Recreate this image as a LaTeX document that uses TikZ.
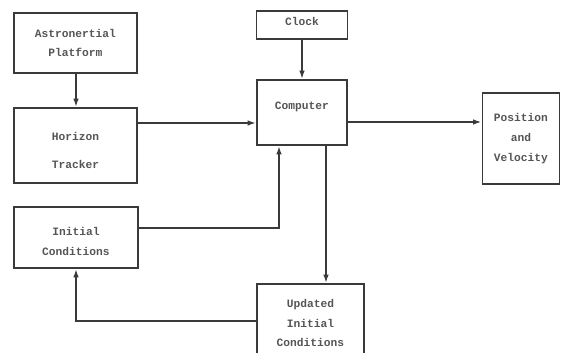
\documentclass[tikz,border=0pt]{standalone}
\usepackage{fontspec}
\setmonofont{Liberation Mono}
\usetikzlibrary{arrows.meta}
\definecolor{inkline}{HTML}{3A3A3A}
\definecolor{inktext}{HTML}{555555}
\newcommand{\lowtext}[2]{\raisebox{#1}[0pt][0pt]{\begin{tabular}{@{}c@{}}#2\end{tabular}}}

\begin{document}
\begin{tikzpicture}[x=0.025cm,y=-0.025cm,
    blk/.style={draw=inkline,line width=1.4pt,align=center,inner sep=0pt,
      font=\ttfamily\bfseries\fontsize{8}{14}\selectfont,text=inktext},
    arr/.style={draw=inkline,line width=1.4pt,-{Latex[length=6pt,width=4pt]}}]
  \useasboundingbox (0,0) rectangle (561,353);
  \node[blk,minimum width=3.075cm,minimum height=1.5cm] (plat) at (75.5,43) {Astronertial\\Platform};
  \node[blk,minimum width=3.075cm,minimum height=1.875cm] (hor) at (75.5,145.5) {\lowtext{-5.5pt}{Horizon\\[6pt]Tracker}};
  \node[blk,minimum width=2.275cm,minimum height=0.7cm,anchor=north] (clock) at (302,10) {\raisebox{5pt}{Clock}};
  \node[blk,minimum width=2.25cm,minimum height=1.625cm] (comp) at (302,112.5) {\raisebox{10pt}{Computer}};
  \node[blk,minimum width=1.925cm,minimum height=2.275cm] (pos) at (521,138.5) {Position\\and\\Velocity};
  \node[blk,minimum width=3.075cm,minimum height=1.525cm] (init) at (76,237.5) {\lowtext{-5pt}{Initial\\Conditions}};
  \node[blk,minimum width=2.675cm,minimum height=2.375cm,anchor=north] (upd) at (310.5,283) {Updated\\Initial\\Conditions\\[-2pt]};
  % connectors
  \draw[arr] ([xshift=0.0125cm]plat.south) coordinate (p1) -- (p1 |- hor.north);
  \draw[arr] (clock.south) -- (comp.north);
  \draw[arr] ([yshift=0.5625cm]hor.east) coordinate (h1) -- (h1 -| comp.west);
  \draw[arr] ([yshift=-0.2375cm]comp.east) coordinate (c1) -- (c1 -| pos.west);
  \draw[arr] ([yshift=0.2375cm]init.east) -| ([xshift=-0.575cm]comp.south);
  \draw[arr] ([xshift=0.6cm]comp.south) coordinate (c2) -- (c2 |- upd.north);
  \draw[arr] ([yshift=0.2625cm]upd.west) -| (init.south);
\end{tikzpicture}
\end{document}
